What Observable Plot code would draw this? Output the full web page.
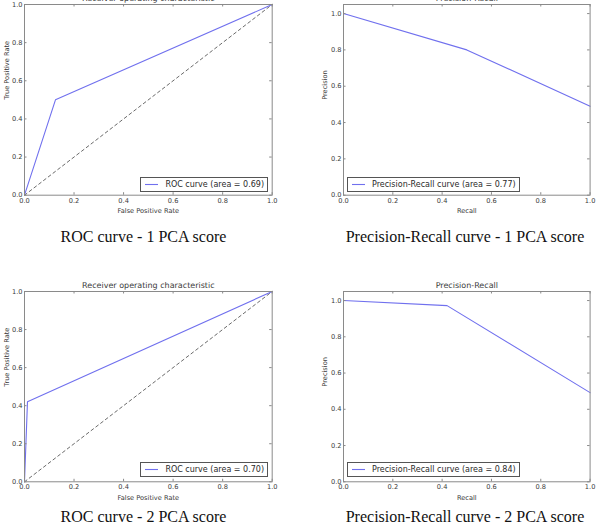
<!DOCTYPE html>
<html>
<head>
<meta charset="utf-8">
<script src="https://cdn.jsdelivr.net/npm/d3@7"></script>
<script src="https://cdn.jsdelivr.net/npm/@observablehq/plot@0.6"></script>
<style>
  html, body { margin: 0; padding: 0; background: #fff; }
  body { width: 596px; height: 526px; position: relative; overflow: hidden; }
  .panel { position: absolute; }
  .legend {
    position: absolute; box-sizing: border-box; height: 15px;
    border: 1px solid #555; background: #fff;
    display: flex; align-items: center;
    font: 8px "DejaVu Sans", sans-serif; color: #2a2a2a;
    white-space: nowrap; padding: 0 3px 0 4px;
  }
  .legend svg { flex: none; margin-right: 7px; }
  .caption {
    position: absolute; font: 16px "Liberation Serif", serif; line-height: 16px;
    color: #111; white-space: nowrap; transform: translateX(-50%);
  }
</style>
</head>
<body>
<script>
// Shared tick values for both axes
const ticks = [0, 0.2, 0.4, 0.6, 0.8, 1.0];

// ROC curve, 1 PCA score
const roc1Fpr = [0, 0.125, 1];
const roc1Tpr = [0, 0.5, 1];
// ROC curve, 2 PCA scores
const roc2Fpr = [0, 0.012, 1];
const roc2Tpr = [0, 0.42, 1];
// chance diagonal
const chanceX = [0, 1];
const chanceY = [0, 1];

// Precision-recall, 1 PCA score
const pr1Recall = [0, 0.5, 1];
const pr1Precision = [1, 0.8, 0.49];
// Precision-recall, 2 PCA scores
const pr2Recall = [0, 0.42, 1];
const pr2Precision = [1, 0.972, 0.492];

// Areas shown in the legends
const rocAreas = [0.69, 0.70];
const prAreas = [0.77, 0.84];

// Panel captions
const captions = [
  "ROC curve - 1 PCA score", "Precision-Recall curve - 1 PCA score",
  "ROC curve - 2 PCA score", "Precision-Recall curve - 2 PCA score"
];

const LINE = "#7070ee";
const FRAME = "#8a8a8a";
const fmt = d3.format(".1f");

function zip(xs, ys) { return xs.map((x, i) => ({x, y: ys[i]})); }

function panel({frameLeft, frameTop, frameW, frameH, yMax, title, xLabel, yLabel, yLabelDx, curve, diagonal}) {
  const mL = 24, mT = 20, mR = 6, mB = 25;
  const tk = 2.5;
  const chart = Plot.plot({
    width: frameW + mL + mR,
    height: frameH + mT + mB,
    marginLeft: mL, marginTop: mT, marginRight: mR, marginBottom: mB,
    style: {fontFamily: "DejaVu Sans", color: "#3a3a3a", background: "transparent", overflow: "visible"},
    x: {domain: [0, 1]},
    y: {domain: [0, yMax]},
    marks: [
      diagonal ? Plot.line(zip(chanceX, chanceY), {x: "x", y: "y", stroke: "#6a6a6a", strokeWidth: 1, strokeDasharray: "3,3"}) : null,
      Plot.line(curve, {x: "x", y: "y", stroke: LINE, strokeWidth: 1.1}),
      Plot.frame({stroke: FRAME, strokeWidth: 1}),
      // inward ticks on all four sides
      Plot.tickX(ticks, {x: d => d, insetTop: frameH - tk, stroke: FRAME}),
      Plot.tickX(ticks, {x: d => d, insetBottom: frameH - tk, stroke: FRAME}),
      Plot.tickY(ticks, {y: d => d, insetRight: frameW - tk, stroke: FRAME}),
      Plot.tickY(ticks, {y: d => d, insetLeft: frameW - tk, stroke: FRAME}),
      Plot.axisX(ticks, {tickSize: 0, tickPadding: 2.7, tickFormat: fmt, fontSize: 6.65, label: null}),
      Plot.axisY(ticks, {tickSize: 0, tickPadding: 2, tickFormat: fmt, fontSize: 6.65, label: null}),
      Plot.text([xLabel], {text: d => d, frameAnchor: "bottom", dy: 16, fontSize: 6.65, lineAnchor: "middle"}),
      Plot.text([yLabel], {text: d => d, frameAnchor: "left", dx: yLabelDx, rotate: -90, fontSize: 6.65, lineAnchor: "middle"}),
      Plot.text([title], {text: d => d, frameAnchor: "top", dy: -5.7, fontSize: 8, lineAnchor: "middle"})
    ]
  });
  const wrap = document.createElement("div");
  wrap.className = "panel";
  wrap.style.left = (frameLeft - mL) + "px";
  wrap.style.top = (frameTop - mT) + "px";
  wrap.appendChild(chart);
  document.body.appendChild(wrap);
}

function legend(text, {left, right, top}) {
  const el = document.createElement("div");
  el.className = "legend";
  if (left != null) el.style.left = left + "px";
  if (right != null) el.style.right = right + "px";
  el.style.top = top + "px";
  const sw = d3.create("svg").attr("width", 13).attr("height", 3);
  sw.append("line").attr("x1", 0).attr("x2", 13).attr("y1", 1.5).attr("y2", 1.5)
    .attr("stroke", LINE).attr("stroke-width", 1.1);
  const label = document.createElement("span");
  label.textContent = text;
  el.appendChild(sw.node());
  el.appendChild(label);
  document.body.appendChild(el);
}

function caption(text, cx, top) {
  const el = document.createElement("div");
  el.className = "caption";
  el.style.left = cx + "px";
  el.style.top = top + "px";
  el.textContent = text;
  document.body.appendChild(el);
}

const rocTitle = "Receiver operating characteristic";
const prTitle = "Precision-Recall";

panel({frameLeft: 24, frameTop: 4.3, frameW: 247.7, frameH: 190.7, yMax: 1,
  title: rocTitle, xLabel: "False Positive Rate", yLabel: "True Positive Rate", yLabelDx: -17.7,
  curve: zip(roc1Fpr, roc1Tpr), diagonal: true});
panel({frameLeft: 342.7, frameTop: 4.3, frameW: 246.6, frameH: 190.7, yMax: 1.05,
  title: prTitle, xLabel: "Recall", yLabel: "Precision", yLabelDx: -18.9,
  curve: zip(pr1Recall, pr1Precision), diagonal: false});
panel({frameLeft: 24, frameTop: 290.7, frameW: 247.7, frameH: 190.3, yMax: 1,
  title: rocTitle, xLabel: "False Positive Rate", yLabel: "True Positive Rate", yLabelDx: -17.7,
  curve: zip(roc2Fpr, roc2Tpr), diagonal: true});
panel({frameLeft: 342.7, frameTop: 290.7, frameW: 246.6, frameH: 190.3, yMax: 1.05,
  title: prTitle, xLabel: "Recall", yLabel: "Precision", yLabelDx: -18.9,
  curve: zip(pr2Recall, pr2Precision), diagonal: false});

const f2 = d3.format(".2f");
legend(`ROC curve (area = ${f2(rocAreas[0])})`, {right: 328, top: 177});
legend(`Precision-Recall curve (area = ${f2(prAreas[0])})`, {left: 347, top: 177});
legend(`ROC curve (area = ${f2(rocAreas[1])})`, {right: 328, top: 462});
legend(`Precision-Recall curve (area = ${f2(prAreas[1])})`, {left: 347, top: 462});

caption(captions[0], 143.5, 228.6);
caption(captions[1], 465, 228.6);
caption(captions[2], 143.5, 508.6);
caption(captions[3], 465, 508.6);
</script>
</body>
</html>
